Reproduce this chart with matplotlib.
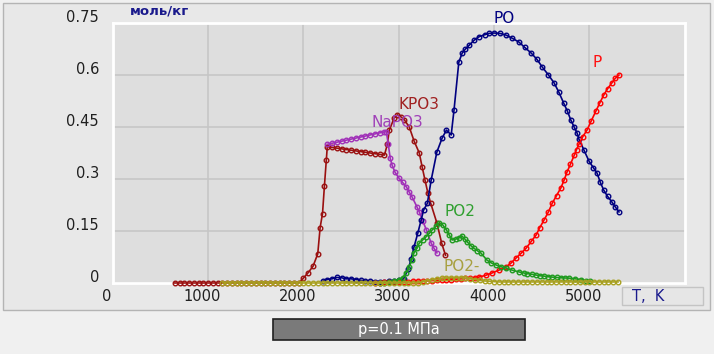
import matplotlib
matplotlib.use('Agg')
import matplotlib.pyplot as plt
from matplotlib.patches import Rectangle
from matplotlib.transforms import ScaledTranslation

plt.rcParams['font.family'] = ['DejaVu Sans']

# temperature, K / content, mol/kg
KPO3_T = [650, 700, 750, 800, 850, 900, 950, 1000, 1050, 1100,
          1150, 1200, 1250, 1300, 1350, 1400, 1450, 1500, 1550, 1600,
          1650, 1700, 1750, 1800, 1850, 1900, 1950,
          2000, 2050, 2100, 2150, 2175, 2200, 2220, 2240, 2250,
          2300, 2350, 2400, 2450, 2500, 2550, 2600, 2650, 2700, 2750, 2800, 2850,
          2880, 2900, 2950, 2985, 3020, 3060, 3110, 3160,
          3215, 3245, 3275, 3305, 3335, 3400, 3450, 3490]
KPO3 = [0, 0, 0, 0, 0, 0, 0, 0, 0, 0,
        0, 0, 0, 0, 0, 0, 0, 0, 0, 0,
        0, 0, 0, 0, 0, 0, 0,
        0.014, 0.030, 0.048, 0.084, 0.160, 0.200, 0.280, 0.355, 0.393,
        0.391, 0.389, 0.387, 0.385, 0.383, 0.381, 0.379, 0.377, 0.375, 0.373, 0.371, 0.369,
        0.400, 0.440, 0.475, 0.485, 0.480, 0.470, 0.450, 0.410,
        0.375, 0.335, 0.297, 0.260, 0.230, 0.173, 0.115, 0.080]

NaPO3_T = [2250, 2300, 2350, 2400, 2450, 2500, 2550, 2600, 2650, 2700, 2750, 2800, 2850, 2870,
           2890, 2910, 2930, 2960, 3000, 3040, 3080, 3110, 3140, 3190, 3215, 3250, 3290, 3340, 3370, 3400]
NaPO3 = [0.400, 0.403, 0.406, 0.409, 0.412, 0.415, 0.418, 0.421, 0.424, 0.427, 0.430, 0.433, 0.436, 0.436,
         0.400, 0.360, 0.340, 0.320, 0.303, 0.290, 0.277, 0.262, 0.248, 0.220, 0.205, 0.180, 0.153, 0.115, 0.100, 0.087]

PO_T = [2200, 2250, 2300, 2350, 2400, 2450, 2500, 2550, 2600, 2650,
        2700, 2750, 2800, 2850, 2900, 2950, 3000, 3050, 3100,
        3130, 3160, 3200, 3235, 3260, 3300, 3340, 3400, 3455, 3500,
        3550, 3580, 3630, 3665, 3700, 3740, 3790, 3840, 3900, 3950,
        4000, 4060, 4125, 4190, 4260, 4320, 4390, 4450, 4505, 4570,
        4630, 4680, 4730, 4770, 4805, 4840, 4870, 4890, 4940, 4995,
        5040, 5080, 5115, 5150, 5190, 5235, 5270, 5310]
PO = [0.005, 0.010, 0.012, 0.016, 0.015, 0.012, 0.012, 0.010, 0.008, 0.006,
      0.005, 0.004, 0.004, 0.004, 0.005, 0.006, 0.008, 0.012, 0.040,
      0.070, 0.104, 0.144, 0.182, 0.210, 0.230, 0.297, 0.378, 0.418, 0.441,
      0.427, 0.500, 0.637, 0.663, 0.675, 0.686, 0.700, 0.710, 0.716, 0.720,
      0.721, 0.720, 0.715, 0.706, 0.695, 0.680, 0.663, 0.645, 0.623, 0.600,
      0.577, 0.550, 0.519, 0.495, 0.470, 0.450, 0.433, 0.415, 0.385, 0.352,
      0.333, 0.317, 0.290, 0.268, 0.250, 0.234, 0.220, 0.205]

P_T = [2750, 2800, 2850, 2900, 2950, 3000, 3050, 3100, 3150, 3200, 3250,
       3300, 3350, 3400, 3450, 3500, 3550, 3600, 3650, 3700, 3750, 3800,
       3840, 3910, 3980, 4050, 4125, 4180, 4230, 4285, 4335, 4390, 4440,
       4480, 4525, 4570, 4610, 4655, 4700, 4735, 4765, 4800, 4840, 4865,
       4890, 4930, 4975, 5020, 5070, 5110, 5150, 5190, 5235, 5270, 5310]
P = [0.000, 0.001, 0.002, 0.002, 0.003, 0.003, 0.004, 0.004, 0.005, 0.005, 0.006,
     0.006, 0.007, 0.008, 0.008, 0.009, 0.010, 0.011, 0.012, 0.013, 0.014, 0.015,
     0.017, 0.022, 0.029, 0.037, 0.046, 0.058, 0.072, 0.086, 0.100, 0.120, 0.138,
     0.160, 0.182, 0.205, 0.230, 0.252, 0.274, 0.297, 0.320, 0.342, 0.368, 0.385,
     0.400, 0.422, 0.441, 0.468, 0.497, 0.520, 0.542, 0.560, 0.577, 0.590, 0.600]

PO2_T = [2800, 2850, 2900, 2950, 3000,
         3040, 3075, 3110, 3135, 3160, 3190, 3215, 3250, 3285, 3320,
         3350, 3390, 3425, 3460, 3500, 3530, 3560, 3600, 3630, 3660,
         3690, 3720, 3755, 3790, 3825, 3860, 3925, 3970, 4020, 4070,
         4125, 4190, 4260, 4310, 4350, 4400, 4440, 4480, 4520, 4565,
         4610, 4655, 4700, 4740, 4785, 4850, 4910, 4960, 5010]
PO2 = [0.000, 0.001, 0.002, 0.005, 0.010,
       0.014, 0.030, 0.046, 0.065, 0.087, 0.100, 0.115, 0.124, 0.133, 0.143,
       0.153, 0.163, 0.173, 0.168, 0.153, 0.138, 0.124, 0.127, 0.130, 0.136,
       0.128, 0.118, 0.108, 0.100, 0.093, 0.087, 0.066, 0.058, 0.052, 0.047,
       0.043, 0.037, 0.032, 0.029, 0.027, 0.025, 0.023, 0.021, 0.020, 0.018,
       0.017, 0.016, 0.015, 0.0145, 0.014, 0.012, 0.010, 0.007, 0.005]

PO2m_T = [1150, 1200, 1250, 1300, 1350, 1400, 1450, 1500, 1550, 1600,
          1650, 1700, 1750, 1800, 1850, 1900, 1950, 2000, 2050, 2100,
          2150, 2200, 2250, 2300, 2350, 2400, 2450, 2500, 2550, 2600,
          2650, 2700, 2750, 2800, 2850, 2900, 2950, 3000, 3050, 3100,
          3150, 3200, 3250, 3300, 3350, 3400, 3450, 3500, 3550, 3600,
          3650, 3700, 3750, 3800, 3850, 3900, 3950, 4000, 4050, 4100,
          4150, 4200, 4250, 4300, 4350, 4400, 4450, 4500, 4550, 4600,
          4650, 4700, 4750, 4800, 4850, 4900, 4950, 5000, 5050, 5100,
          5150, 5200, 5250, 5300]
PO2m = [0, 0, 0, 0, 0, 0, 0, 0, 0, 0,
        0, 0, 0, 0, 0, 0, 0, 0, 0, 0,
        0, 0, 0, 0, 0, 0, 0, 0, 0, 0,
        0, 0, 0, 0, 0, 0, 0, 0, 0, 0,
        0, 0, 0.003, 0.006, 0.009, 0.011, 0.013, 0.014, 0.015, 0.015,
        0.015, 0.014, 0.012, 0.010, 0.008, 0.006, 0.005, 0.004, 0.003, 0.003,
        0.003, 0.003, 0.003, 0.003, 0.003, 0.003, 0.003, 0.003, 0.003, 0.003,
        0.003, 0.003, 0.003, 0.003, 0.003, 0.003, 0.003, 0.003, 0.003, 0.003,
        0.003, 0.003, 0.003, 0.003]

x_ticks = [0, 1000, 2000, 3000, 4000, 5000]
y_ticks = [0, 0.15, 0.3, 0.45, 0.6, 0.75]
y_tick_labels = ['0', '0.15', '0.3', '0.45', '0.6', '0.75']

fig = plt.figure(figsize=(7.14, 3.54), dpi=100, facecolor='#f0f0f0')

# outer panel
fig.patches.append(Rectangle((0.0042, 0.1243), 0.990, 0.867, transform=fig.transFigure,
                             facecolor='#e8e8e8', edgecolor='#b4b4b4', lw=1, zorder=-5))

ax = fig.add_axes([0.158, 0.2006, 0.801, 0.7345])
ax.set_zorder(3)
ax.set_facecolor('#dedede')
ax.set_xlim(0, 6000)
ax.set_ylim(0, 0.75)
ax.set_xticks(x_ticks)
ax.set_yticks(y_ticks)
ax.tick_params(length=0, labelbottom=False, labelleft=False)
ax.grid(True, color='#c6c6c6', lw=1.2)
ax.set_axisbelow(True)
for s in ax.spines.values():
    s.set_color('white')
    s.set_linewidth(2)

series = [
    (KPO3_T, KPO3, '#9a1010'),
    (NaPO3_T, NaPO3, '#a030b8'),
    (PO_T, PO, '#000080'),
    (P_T, P, '#ff0000'),
    (PO2_T, PO2, '#1e9a1e'),
    (PO2m_T, PO2m, '#a8a020'),
]
for t, v, c in series:
    ax.plot(t, v, color=c, lw=1.2, marker='o', ms=3.3, mfc='none', mec=c, mew=1.0,
            clip_on=False, zorder=3)

lab = dict(fontsize=11, ha='center', va='center')
ax.text(4105, 0.764, 'PO', color='#000080', **lab)
ax.text(5080, 0.635, 'P', color='#ff1010', **lab)
ax.text(3215, 0.516, 'KPO3', color='#a02020', **lab)
ax.text(2985, 0.464, 'NaPO3', color='#a040b8', **lab)
ax.text(3640, 0.205, 'PO2', color='#30a030', **lab)
ax.text(3655, 0.049, 'PO2-', color='#a8a040', **lab)

# tick labels
xoff = ScaledTranslation(-0.06, 0, fig.dpi_scale_trans)
for x in x_ticks:
    ax.text(x, -0.038, str(x), transform=ax.transData + xoff, fontsize=10.5,
            ha='center', va='center', color='#202020')
yoff = ScaledTranslation(0, 0.05, fig.dpi_scale_trans)
for y, s in zip(y_ticks, y_tick_labels):
    ax.text(-0.024, y, s, transform=ax.get_yaxis_transform() + yoff, fontsize=10.5,
            ha='right', va='center', color='#202020')

fig.text(0.182, 0.970, 'моль/кг', fontsize=9.5, fontweight='bold', color='#1a1a8c',
         ha='left', va='center')

fig.patches.append(Rectangle((0.871, 0.1384), 0.1134, 0.0508, transform=fig.transFigure,
                             facecolor='#e6e6e6', edgecolor='#c4c4c4', lw=1, zorder=1))
fig.text(0.885, 0.1638, 'T,  K', fontsize=10.5, color='#1a1a8c', ha='left', va='center')

fig.patches.append(Rectangle((0.3824, 0.0395), 0.353, 0.0593, transform=fig.transFigure,
                             facecolor='#7a7a7a', edgecolor='#202020', lw=1.2, zorder=1))
fig.text(0.559, 0.0690, 'p=0.1 МПа', fontsize=10.5, color='white', ha='center', va='center')

fig.savefig('out.png', dpi=100, facecolor=fig.get_facecolor())
